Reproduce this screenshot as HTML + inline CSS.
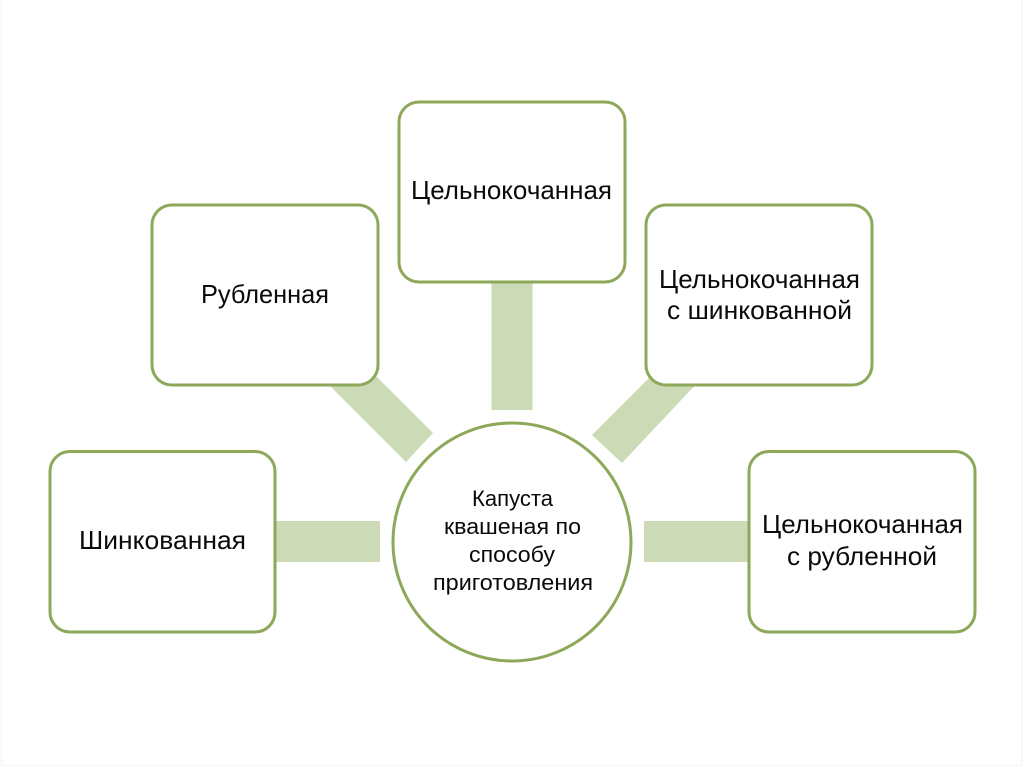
<!DOCTYPE html>
<html lang="ru">
<head>
<meta charset="utf-8">
<title>Капуста квашеная по способу приготовления</title>
<style>
html,body{margin:0;padding:0;background:#fff;}
svg{display:block;}
text{font-family:"Liberation Sans","DejaVu Sans",sans-serif;fill:#0a0a0a;}
.b{font-size:26px;}
.c{font-size:22px;}
</style>
</head>
<body>
<svg width="1024" height="767" viewBox="0 0 1024 767" xmlns="http://www.w3.org/2000/svg">
<rect x="0" y="0" width="1024" height="767" fill="#fff"/>
<rect x="1.5" y="-2" width="1020.5" height="767.5" fill="#fff" stroke="#f7f7f7" stroke-width="1.5"/>

<g fill="#cddab6">
<rect x="491.5" y="280" width="41" height="130"/>
<rect x="270" y="521" width="110" height="41"/>
<rect x="644" y="521" width="110" height="41"/>
<polygon points="433,433 406,462 320,376 360,360"/>
<polygon points="592,435 622,463 700,380 665,362"/>
</g>

<g fill="#fff" stroke="#8ca858" stroke-width="3">
<rect x="50" y="451.5" width="225" height="180.5" rx="20"/>
<rect x="152" y="205" width="226" height="180" rx="20"/>
<rect x="399" y="102" width="226" height="180" rx="20"/>
<rect x="646" y="205" width="226" height="180" rx="20"/>
<rect x="749" y="451.5" width="226" height="180.5" rx="20"/>
<circle cx="512" cy="542" r="119"/>
</g>

<text class="b" x="79" y="549" textLength="167" lengthAdjust="spacingAndGlyphs">Шинкованная</text>
<text class="b" x="201" y="303" textLength="128" lengthAdjust="spacingAndGlyphs">Рубленная</text>
<text class="b" x="411" y="199" textLength="201" lengthAdjust="spacingAndGlyphs">Цельнокочанная</text>
<text class="b" x="659" y="288" textLength="201" lengthAdjust="spacingAndGlyphs">Цельнокочанная</text>
<text class="b" x="667" y="319" textLength="185" lengthAdjust="spacingAndGlyphs">с шинкованной</text>
<text class="b" x="762" y="533" textLength="201" lengthAdjust="spacingAndGlyphs">Цельнокочанная</text>
<text class="b" x="787" y="565" textLength="150" lengthAdjust="spacingAndGlyphs">с рубленной</text>

<text class="c" x="472" y="506" textLength="81" lengthAdjust="spacingAndGlyphs">Капуста</text>
<text class="c" x="444" y="534" textLength="137" lengthAdjust="spacingAndGlyphs">квашеная по</text>
<text class="c" x="469" y="562" textLength="86" lengthAdjust="spacingAndGlyphs">способу</text>
<text class="c" x="433" y="590" textLength="160" lengthAdjust="spacingAndGlyphs">приготовления</text>
</svg>
</body>
</html>
